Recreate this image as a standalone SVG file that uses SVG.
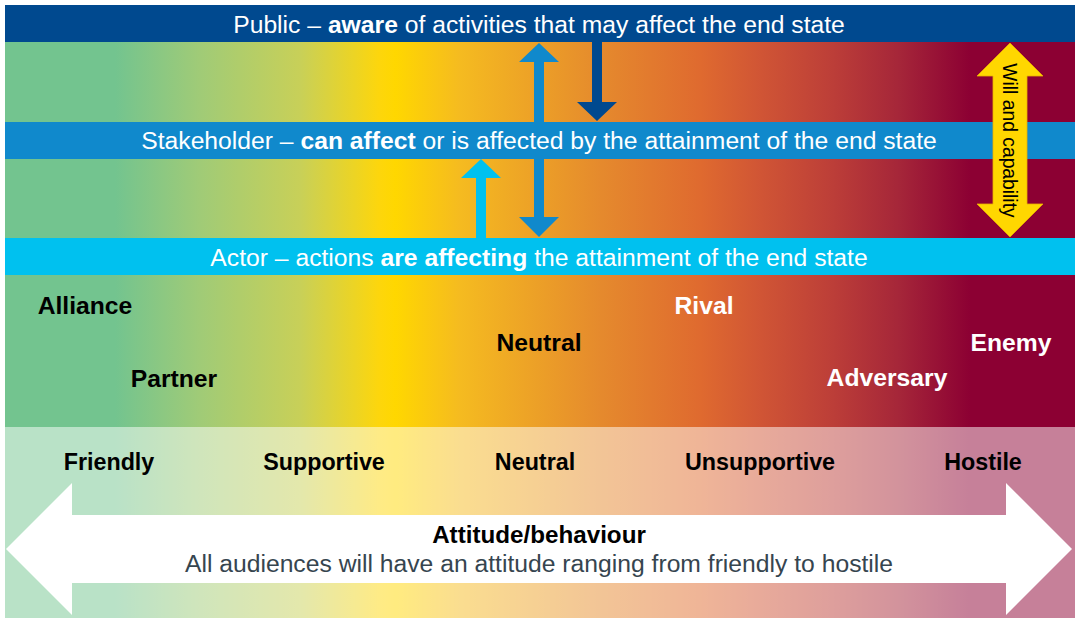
<svg xmlns="http://www.w3.org/2000/svg" width="1075" height="618" viewBox="0 0 1075 618">
<defs>
<linearGradient id="spec" gradientUnits="userSpaceOnUse" x1="5" y1="0" x2="1075" y2="0">
<stop offset="0" stop-color="#73c48f"/>
<stop offset="0.103" stop-color="#73c48f"/>
<stop offset="0.182" stop-color="#a0cb77"/>
<stop offset="0.276" stop-color="#c8d058"/>
<stop offset="0.35" stop-color="#fdd60c"/>
<stop offset="0.365" stop-color="#ffd700"/>
<stop offset="0.425" stop-color="#f5bb20"/>
<stop offset="0.556" stop-color="#e58a2d"/>
<stop offset="0.650" stop-color="#df6a2f"/>
<stop offset="0.706" stop-color="#d05535"/>
<stop offset="0.771" stop-color="#bd3f38"/>
<stop offset="0.836" stop-color="#a52639"/>
<stop offset="0.902" stop-color="#8c0033"/>
<stop offset="1" stop-color="#8c0033"/>
</linearGradient>
<style>
.t{font-family:"Liberation Sans",Arial,Helvetica,sans-serif}
.band{fill:#fff;font-size:24.7px;text-anchor:middle}
.lbl{font-size:24.7px;font-weight:bold;text-anchor:middle}
.att{font-size:23.3px;font-weight:bold;text-anchor:middle;fill:#000}
</style>
</defs>
<g id="background">
<rect x="5" y="42" width="1070" height="385" fill="url(#spec)"/>
<rect x="5" y="427" width="1070" height="191" fill="url(#spec)"/>
<rect x="5" y="427" width="1070" height="191" fill="#fff" fill-opacity="0.5"/>
</g>
<g id="public">
<rect x="5" y="5" width="1070" height="37" fill="#00498f"/>
</g>
<g id="stakeholder">
<rect x="5" y="122" width="1070" height="37" fill="#1089cc"/>
</g>
<g id="actor">
<rect x="5" y="238" width="1070" height="37" fill="#00c1ef"/>
</g>
<g id="connectors">
<polygon fill="#1089cc" points="539,43 559,62 544,62 544,217 559,217 539,237 519,217 534,217 534,62 519,62"/>
<polygon fill="#00498f" points="592,42 602,42 602,102 617,102 597,121 577,102 592,102"/>
<polygon fill="#00c1ef" points="481,159 501,178 486,178 486,238 476,238 476,178 461,178"/>
<polygon fill="#ffd700" stroke="#e8b000" stroke-width="0.8" points="1010,43 1043,76 1027,76 1027,204 1043,204 1010,237 977,204 993,204 993,76 977,76"/>
<polygon fill="#fff" points="6,549 72,483 72,515 1006,515 1006,483 1072,549 1006,615 1006,583 72,583 72,615"/>
</g>
<g id="band-texts" class="t">
<text class="band" x="539" y="33">Public – <tspan font-weight="bold">aware</tspan> of activities that may affect the end state</text>
<text class="band" x="539" y="149">Stakeholder – <tspan font-weight="bold">can affect</tspan> or is affected by the attainment of the end state</text>
<text class="band" x="539" y="266">Actor – actions <tspan font-weight="bold">are affecting</tspan> the attainment of the end state</text>
</g>
<g id="will" class="t">
<text x="1009" y="140.5" font-size="19.3" text-anchor="middle" dominant-baseline="central" fill="#000" transform="rotate(90 1009 140.5)">Will and capability</text>
</g>
<g id="relations" class="t">
<text class="lbl" x="85" y="314" fill="#000">Alliance</text>
<text class="lbl" x="174" y="387" fill="#000">Partner</text>
<text class="lbl" x="539" y="351" fill="#000">Neutral</text>
<text class="lbl" x="704" y="314" fill="#fff">Rival</text>
<text class="lbl" x="1011" y="351" fill="#fff">Enemy</text>
<text class="lbl" x="887" y="386" fill="#fff">Adversary</text>
</g>
<g id="attitudes" class="t">
<text class="att" x="109" y="470">Friendly</text>
<text class="att" x="324" y="470">Supportive</text>
<text class="att" x="535" y="470">Neutral</text>
<text class="att" x="760" y="470">Unsupportive</text>
<text class="att" x="983" y="470">Hostile</text>
<text x="539" y="543" font-size="24.2" font-weight="bold" text-anchor="middle" fill="#000">Attitude/behaviour</text>
<text x="539" y="572" font-size="24.7" text-anchor="middle" fill="#36454f">All audiences will have an attitude ranging from friendly to hostile</text>
</g>
</svg>
